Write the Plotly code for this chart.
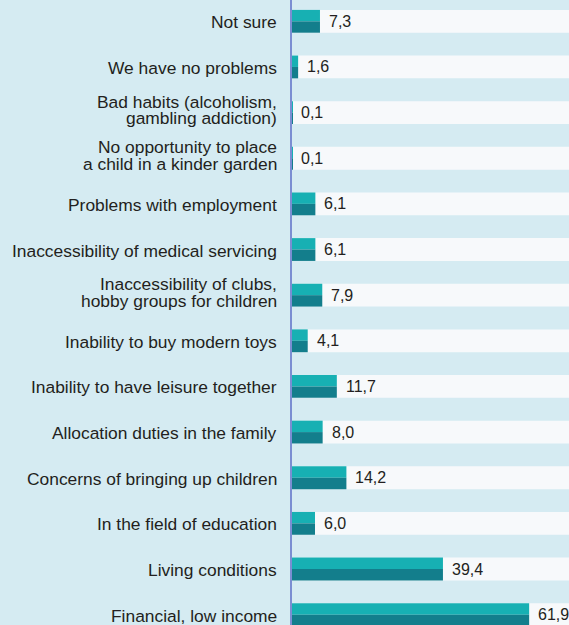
import plotly.graph_objects as go

# Survey answers, listed from top to bottom as in the chart
categories = [
    "Not sure",
    "We have no problems",
    "Bad habits (alcoholism,<br>gambling addiction)",
    "No opportunity to place<br>a child in a kinder garden",
    "Problems with employment",
    "Inaccessibility of medical servicing",
    "Inaccessibility of clubs,<br>hobby groups for children",
    "Inability to buy modern toys",
    "Inability to have leisure together",
    "Allocation duties in the family",
    "Concerns of bringing up children",
    "In the field of education",
    "Living conditions",
    "Financial, low income",
]
values = [7.3, 1.6, 0.1, 0.1, 6.1, 6.1, 7.9, 4.1, 11.7, 8.0, 14.2, 6.0, 39.4, 61.9]

BG = "#d5ebf2"
STRIP = "#f7f9fb"
LIGHT = "#17b0b3"
DARK = "#137e8c"
TEXT = "#231f20"
FONT = "Liberation Sans, Arial, sans-serif"

n = len(categories)
ypos = [n - 1 - i for i in range(n)]  # top row gets the highest y
labels = [f"{v:.1f}".replace(".", ",") for v in values]

fig = go.Figure()

# upper (light) half and lower (dark) half of each bar
fig.add_trace(go.Bar(x=values, y=ypos, orientation="h", width=0.25, offset=0,
                     marker=dict(color=LIGHT, line=dict(width=0)),
                     hoverinfo="skip", showlegend=False))
fig.add_trace(go.Bar(x=values, y=ypos, orientation="h", width=0.25, offset=-0.25,
                     marker=dict(color=DARK, line=dict(width=0)),
                     hoverinfo="skip", showlegend=False))

shapes = []
annotations = []
for cat, y, lab, v in zip(categories, ypos, labels, values):
    # white band behind each bar
    shapes.append(dict(type="rect", xref="x domain", yref="y", x0=0, x1=1,
                       y0=y - 0.25, y1=y + 0.25, fillcolor=STRIP,
                       line=dict(width=0), layer="below"))
    # value label
    annotations.append(dict(x=v, y=y, xref="x", yref="y", text=lab,
                            showarrow=False, xanchor="left", yanchor="middle",
                            xshift=7, font=dict(size=16, color=TEXT, family=FONT)))
    # category label, lines placed one by one for tight spacing
    lines = cat.split("<br>")
    k = len(lines)
    for j, line in enumerate(lines):
        shift = ((k - 1) / 2 - j) * 16.7 + (2.5 if k > 1 else -1)
        annotations.append(dict(x=0, y=y, xref="paper", yref="y", text=line,
                                showarrow=False, xanchor="right", yanchor="middle",
                                xshift=-14, yshift=shift, borderpad=0,
                                font=dict(size=17.4, color=TEXT, family=FONT)))

fig.update_layout(
    width=569, height=625,
    margin=dict(l=292, r=0, t=0, b=0),
    paper_bgcolor=BG, plot_bgcolor=BG,
    barmode="overlay",
    shapes=shapes,
    annotations=annotations,
    xaxis=dict(range=[0, 72.3], showgrid=False, zeroline=False,
               showticklabels=False, showline=False),
    yaxis=dict(range=[-0.227, 13.467], showgrid=False, zeroline=False,
               showticklabels=False, showline=True, linecolor="#7b8ed2",
               linewidth=2, ticks=""),
)

fig.write_html("out.html", config={"displayModeBar": False},
               post_script="document.body.style.margin='0px';")
